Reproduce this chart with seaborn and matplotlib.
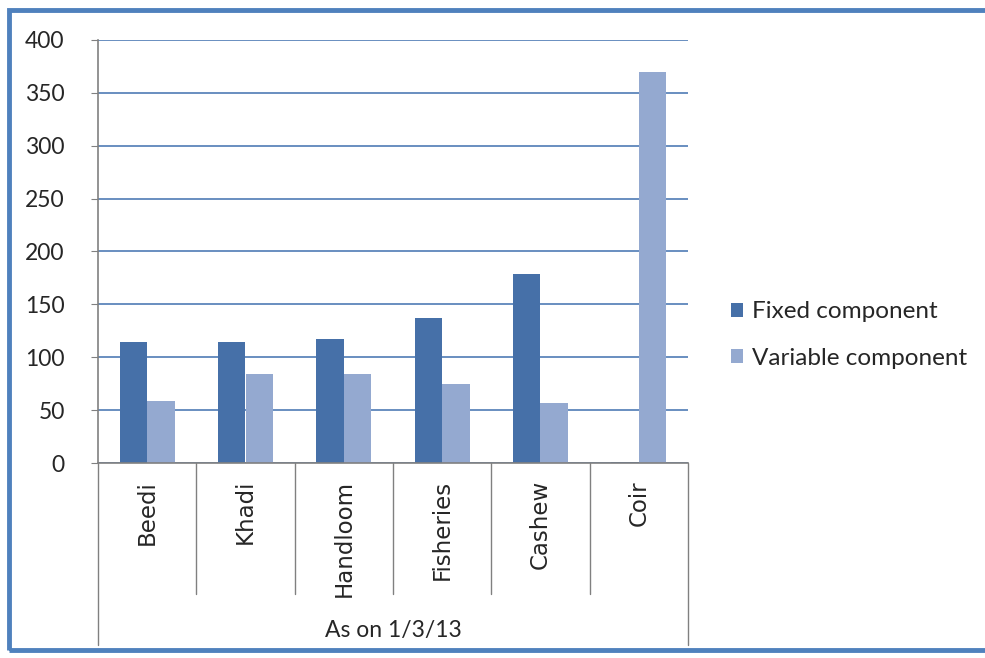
import matplotlib
matplotlib.use("Agg")
import matplotlib.pyplot as plt
import seaborn as sns
import pandas as pd
from matplotlib.patches import Rectangle
from matplotlib.font_manager import FontProperties

categories = ["Beedi", "Khadi", "Handloom", "Fisheries", "Cashew", "Coir"]
fixed_vals = [114, 114, 117, 137, 179, 1]
variable_vals = [59, 84, 84, 75, 57, 370]
series_names = ["Fixed component", "Variable component"]
group_label = "As on 1/3/13"
yticks = [0, 50, 100, 150, 200, 250, 300, 350, 400]

df = pd.DataFrame({
    "category": categories * 2,
    "series": [series_names[0]] * len(categories) + [series_names[1]] * len(categories),
    "value": fixed_vals + variable_vals,
})

sns.set_style("white")
plt.rcParams["font.family"] = ["Lato", "DejaVu Sans"]

fig = plt.figure(figsize=(9.85, 6.58), dpi=100)
ax = fig.add_axes([98/985, (658-463)/658, (688-98)/985, (463-40)/658])

palette = {series_names[0]: "#4670A8", series_names[1]: "#94A9D0"}
sns.barplot(data=df, x="category", y="value", hue="series", palette=palette,
            ax=ax, width=0.56, saturation=1, edgecolor="none", legend=True)

ax.set_ylim(0, 400)
ax.set_xlim(-0.5, len(categories) - 0.5)
ax.set_yticks(yticks)
ax.set_yticklabels([str(t) for t in yticks], fontsize=16.5)
ax.yaxis.grid(True, color="#4F7BB5", linewidth=1.2)
ax.set_axisbelow(True)
ax.set_xlabel("")
ax.set_ylabel("")
ax.tick_params(axis="y", length=5, color="#808080", pad=19, direction="out", left=True)
ax.set_xticks([])
for s in ["top", "right"]:
    ax.spines[s].set_visible(False)
for s in ["left", "bottom"]:
    ax.spines[s].set_color("#808080")
    ax.spines[s].set_linewidth(1.2)

# category labels
cat_font = FontProperties(family="DejaVu Sans", size=16.5)
for i, c in enumerate(categories):
    ax.text(i, -0.04, c, transform=ax.get_xaxis_transform(), rotation=90,
            ha="center", va="top", fontproperties=cat_font)

# separator lines below the axis
n = len(categories)
for i in range(n + 1):
    x = i - 0.5
    bottom = -0.43 if i in (0, n) else -0.31
    ax.plot([x, x], [0, bottom], transform=ax.get_xaxis_transform(),
            color="#808080", linewidth=1.0, clip_on=False)
ax.text((n - 1) / 2, -0.395, group_label, transform=ax.get_xaxis_transform(),
        ha="center", va="center", fontsize=16.5)

leg = ax.legend(loc="center left", bbox_to_anchor=(1.035, 0.302), frameon=False,
                fontsize=17.5, handlelength=0.5, handleheight=0.5,
                labelspacing=1.05, handletextpad=0.4)

# outer blue border
fig.patches.append(Rectangle((9/985, (658-650)/658), 1.05, (650-10)/658,
                             transform=fig.transFigure, fill=False,
                             edgecolor="#4F81BD", linewidth=3.5, clip_on=False))

fig.savefig("out.png", dpi=100)
